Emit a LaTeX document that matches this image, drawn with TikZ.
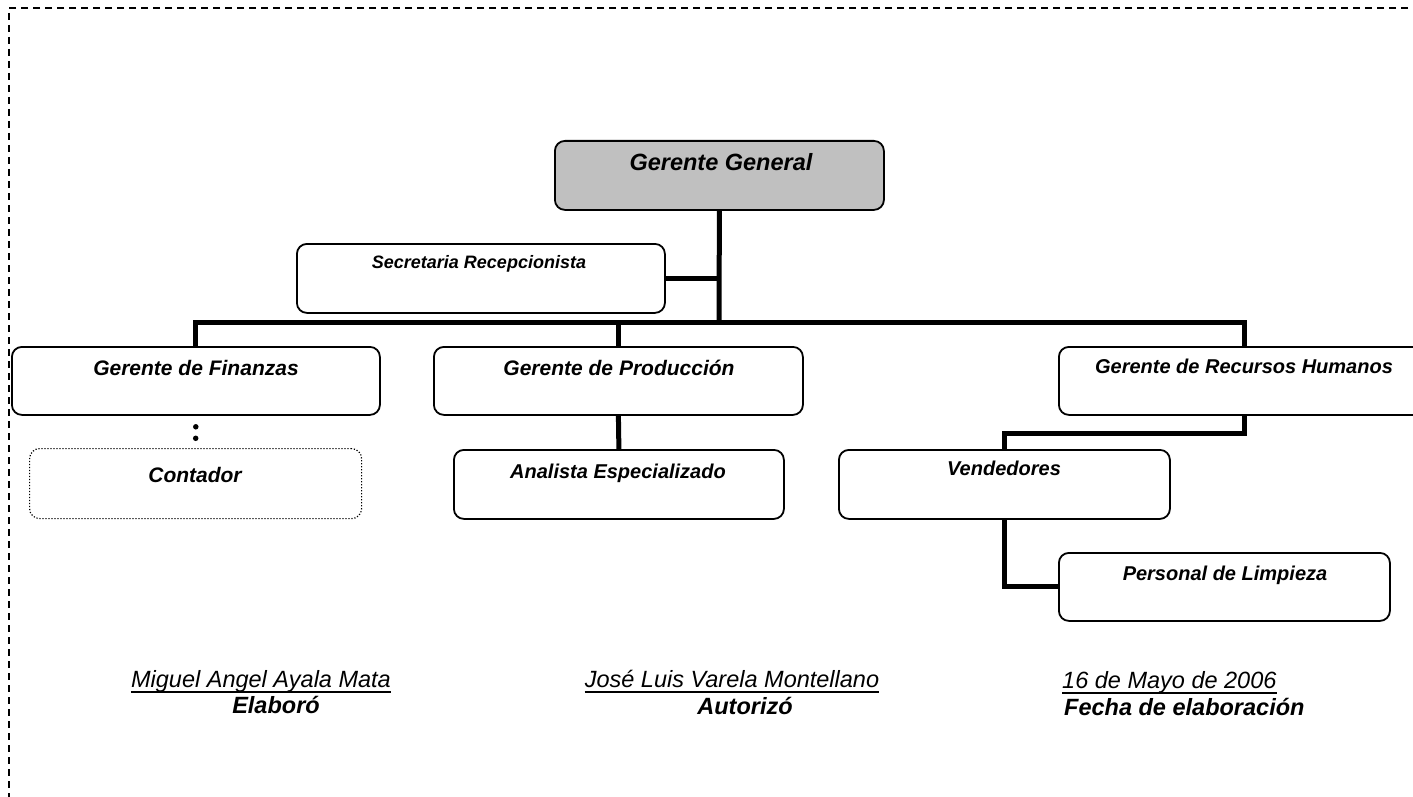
\documentclass[tikz,border=0pt]{standalone}
\usepackage{fontspec}
\setmainfont{Liberation Sans}
\definecolor{ggfill}{HTML}{C0C0C0}
\begin{document}
\begin{tikzpicture}[x=1pt,y=-1pt,
  box/.style={draw, line width=1.8pt, rounded corners=10pt, inner sep=0pt, anchor=north west},
  dotbox/.style={draw, line width=1.2pt, dash pattern=on 1.2pt off 1.8pt, rounded corners=10pt, inner sep=0pt, anchor=north west},
  conn/.style={line width=5pt},
  lbl/.style={anchor=base, inner sep=0pt, font=\fontsize{21}{24}\selectfont\bfseries\itshape},
  lbls/.style={anchor=base, inner sep=0pt, font=\fontsize{20}{23}\selectfont\bfseries\itshape},
  sig/.style={anchor=base, inner sep=0pt, font=\fontsize{23.5}{27}\selectfont\itshape},
  role/.style={anchor=base, inner sep=0pt, font=\fontsize{23.5}{27}\selectfont\bfseries\itshape},
  uline/.style={line width=1.6pt}]
\useasboundingbox (0,0) rectangle (1413,797);
% frame
\draw[line width=2pt, dash pattern=on 7pt off 5pt] (1420,8) -- (9,8) -- (9,800);
% boxes
\node[box, fill=ggfill, minimum width=329pt, minimum height=69pt] (gg) at (554,140) {};
\node[box, minimum width=368pt, minimum height=69pt] (sec) at (296,243) {};
\node[box, minimum width=368pt, minimum height=68pt] (fin) at (11,346) {};
\node[dotbox, minimum width=332pt, minimum height=70pt] (cont) at (29,448) {};
\node[box, minimum width=369pt, minimum height=68pt] (prod) at (433,346) {};
\node[box, minimum width=330pt, minimum height=69pt] (anal) at (453,449) {};
\node[box, minimum width=372pt, minimum height=68pt] (rrhh) at (1058,346) {};
\node[box, minimum width=331pt, minimum height=69pt] (vend) at (838,449) {};
\node[box, minimum width=331pt, minimum height=68pt] (pers) at (1058,552) {};
% labels
\node[lbl, font=\fontsize{23.5}{26}\selectfont\bfseries\itshape] (ggt) at (721,170) {Gerente General};
\node[lbl, font=\fontsize{18}{21}\selectfont\bfseries\itshape] (sect) at (479,268) {Secretaria Recepcionista};
\node[lbl] (fint) at (196,375) {Gerente de Finanzas};
\node[lbl] (contt) at (195,482) {Contador};
\node[lbl] (prodt) at (619,375) {Gerente de Producción};
\node[lbls] (analt) at (618,478) {Analista Especializado};
\node[lbls] (rrhht) at (1244,373) {Gerente de Recursos Humanos};
\node[lbls] (vendt) at (1004,475) {Vendedores};
\node[lbls] (perst) at (1225,580) {Personal de Limpieza};
% connectors
\coordinate (bus) at (719,322);
\draw[conn] (gg.south) -- (bus);
\draw[conn] (fin.north) |- (bus) -| (rrhh.north);
\draw[conn] (prod.north) -- (prod.north |- bus);
\draw[conn] (sec.east) -- (sec.east -| bus);
\draw[conn] (prod.south) -- (anal.north);
\draw[conn] (rrhh.south) -- ++(0,18) -| (vend.north);
\draw[conn] (vend.south) |- (pers.west);
\draw[line width=5.5pt, line cap=round, dash pattern=on 0pt off 11.5pt, dash phase=0.5pt] (fin.south) -- (cont.north);
% signatures
\node[sig] (n1) at (261,687) {Miguel Angel Ayala Mata};
\node[role] (r1) at (276,713) {Elaboró};
\node[sig] (n2) at (732,687) {José Luis Varela Montellano};
\node[role] (r2) at (745,714) {Autorizó};
\node[sig, anchor=base west] (n3) at (1062,688) {16 de Mayo de 2006};
\node[role, anchor=base west] (r3) at (1064,715) {Fecha de elaboración};
\foreach \n in {n1,n2,n3}
  \draw[uline] ([yshift=-5pt]\n.base west) -- ([yshift=-5pt]\n.base east);
\end{tikzpicture}
\end{document}
